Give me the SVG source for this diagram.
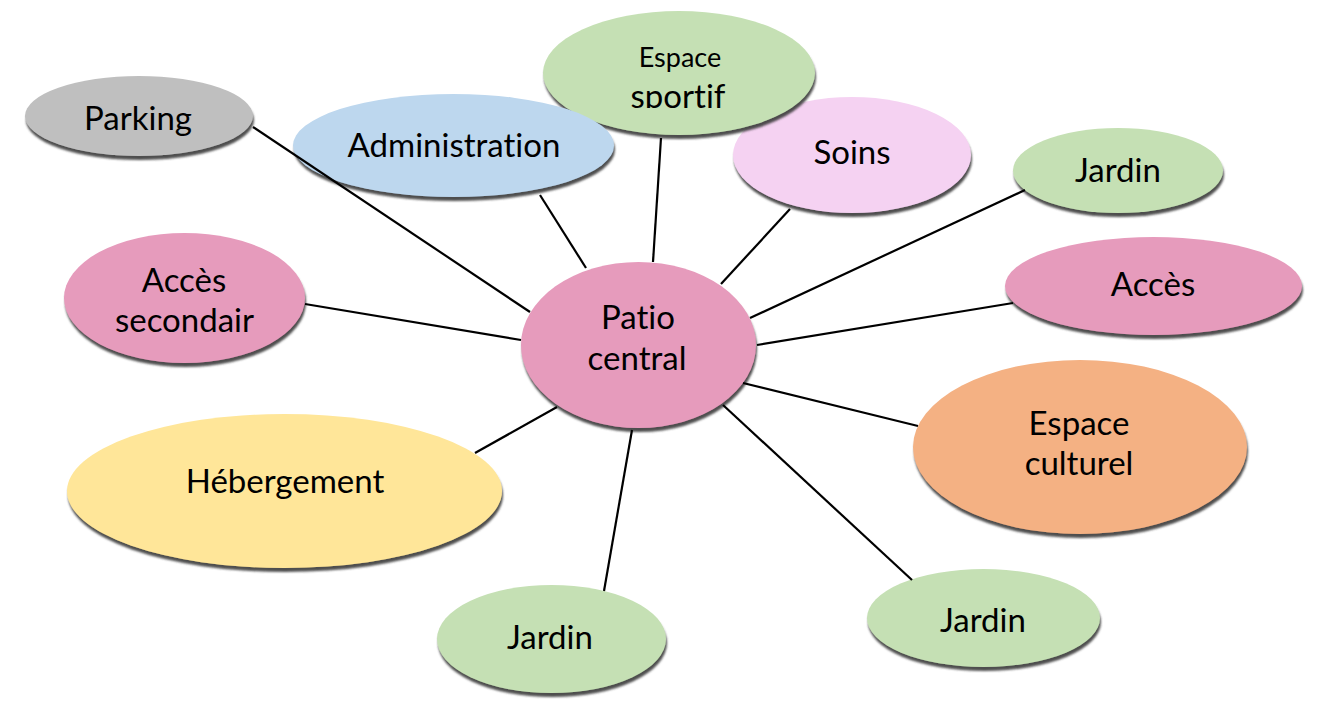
<svg xmlns="http://www.w3.org/2000/svg" width="1318" height="705" viewBox="0 0 1318 705">
<style>
  .t { font-family: Lato, "Open Sans", sans-serif; font-size: 33px; fill: #000; text-anchor: middle; font-variant-ligatures: none; font-feature-settings: "liga" 0, "clig" 0; }
  .s { font-size: 27px; }
  .n { filter: url(#sh); }
  .gray { fill: #BFBFBF; }
  .blue { fill: #BDD7EE; }
  .green { fill: #C5E0B4; }
  .lilac { fill: #F5D2F2; }
  .pink { fill: #E69BBC; }
  .yellow { fill: #FFE699; }
  .orange { fill: #F4B183; }
  #connectors line { stroke: #000; stroke-width: 2.2; }
</style>
<defs>
  <filter id="sh" x="-10%" y="-10%" width="120%" height="130%">
    <feGaussianBlur in="SourceAlpha" stdDeviation="1"/>
    <feOffset dx="1" dy="4" result="b"/>
    <feFlood flood-color="#3c3c3c" flood-opacity="0.9"/>
    <feComposite in2="b" operator="in"/>
    <feMerge><feMergeNode/><feMergeNode in="SourceGraphic"/></feMerge>
  </filter>
  <clipPath id="clipSport"><rect x="540" y="0" width="280" height="108"/></clipPath>
</defs>
<rect width="1318" height="705" fill="#fff"/>

<g id="node-parking">
  <ellipse class="n gray" cx="139" cy="116" rx="114" ry="40"/>
  <text class="t" x="138" y="130">Parking</text>
</g>
<g id="node-soins">
  <ellipse class="n lilac" cx="852" cy="155" rx="119" ry="58"/>
  <text class="t" x="852" y="164">Soins</text>
</g>
<g id="node-espace-sportif">
  <ellipse class="n green" cx="679" cy="73" rx="136" ry="62"/>
  <text class="t s" x="680" y="67">Espace</text>
  <text class="t" x="678" y="108" clip-path="url(#clipSport)">sportif</text>
</g>
<g id="node-administration">
  <ellipse class="n blue" cx="453.5" cy="145.5" rx="160.5" ry="51.5"/>
  <text class="t" x="454" y="157">Administration</text>
</g>
<g id="node-jardin-1">
  <ellipse class="n green" cx="1118" cy="170.5" rx="105" ry="42.5"/>
  <text class="t" x="1118" y="182">Jardin</text>
</g>
<g id="node-acces">
  <ellipse class="n pink" cx="1153.5" cy="286" rx="148.5" ry="49"/>
  <text class="t" x="1153" y="296">Accès</text>
</g>
<g id="node-acces-secondair">
  <ellipse class="n pink" cx="184.5" cy="298" rx="120.5" ry="65"/>
  <text class="t" x="184" y="292">Accès</text>
  <text class="t" x="184.5" y="332">secondair</text>
</g>
<g id="node-patio">
  <ellipse class="n pink" cx="638.5" cy="345" rx="117.5" ry="83"/>
  <text class="t" x="638" y="329">Patio</text>
  <text class="t" x="637" y="370">central</text>
</g>
<g id="node-hebergement">
  <ellipse class="n yellow" cx="284.5" cy="491" rx="217.5" ry="77"/>
  <text class="t" x="285" y="493">Hébergement</text>
</g>
<g id="node-espace-culturel">
  <ellipse class="n orange" cx="1080" cy="447" rx="167" ry="87"/>
  <text class="t" x="1079" y="435">Espace</text>
  <text class="t" x="1079" y="475">culturel</text>
</g>
<g id="node-jardin-2">
  <ellipse class="n green" cx="551.5" cy="639" rx="114.5" ry="54"/>
  <text class="t" x="550" y="649">Jardin</text>
</g>
<g id="node-jardin-3">
  <ellipse class="n green" cx="983.5" cy="618" rx="116.5" ry="49"/>
  <text class="t" x="983" y="632">Jardin</text>
</g>

<g id="connectors">
  <line x1="253" y1="127" x2="530" y2="312"/>
  <line x1="540" y1="195" x2="586" y2="268"/>
  <line x1="661" y1="138" x2="653" y2="262"/>
  <line x1="790" y1="209" x2="721" y2="284"/>
  <line x1="1025" y1="190" x2="750" y2="318"/>
  <line x1="1013" y1="303" x2="757" y2="345"/>
  <line x1="305" y1="304" x2="521" y2="340"/>
  <line x1="475" y1="453" x2="557" y2="407"/>
  <line x1="604" y1="591" x2="632" y2="430"/>
  <line x1="743" y1="383" x2="918" y2="426"/>
  <line x1="723" y1="405" x2="912" y2="580"/>
</g>
</svg>
